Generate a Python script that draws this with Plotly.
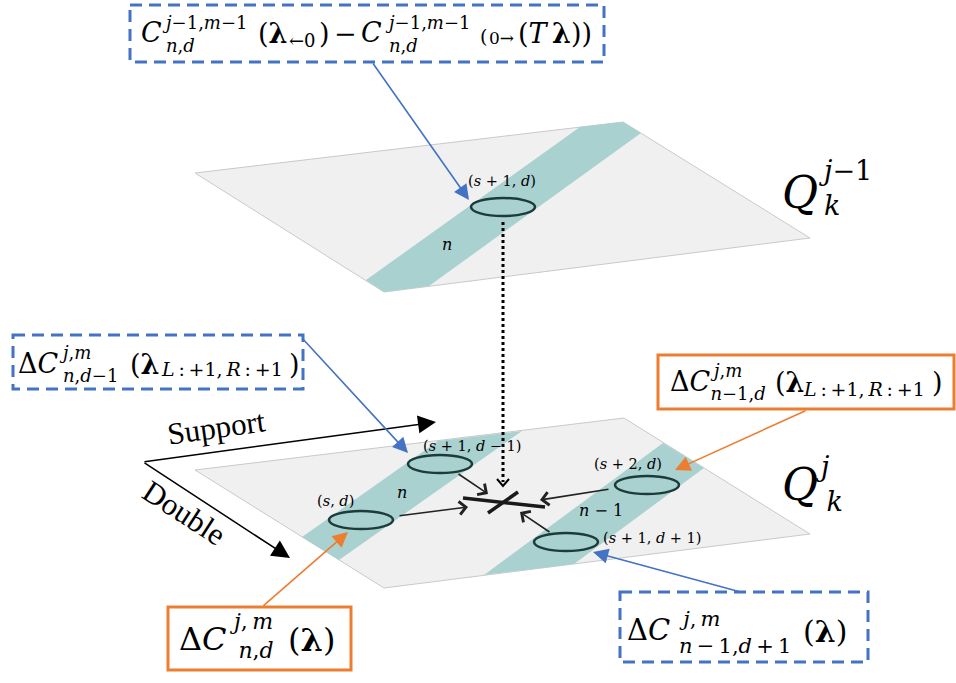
import plotly.graph_objects as go

W, H = 956, 683
MATH = "DejaVu Serif"
TIMES = "Liberation Serif"
BLUE = "#4472c4"
ORANGE = "#ed7d31"
PLANE_FILL = "#f0f0f0"
PLANE_LINE = "#c9c9c9"
BAND = "#a9d1d0"
RING = "#1d3b3b"
TS = "\u2009"

# ---------------- text content ----------------
plane_scripts = [f"<i>j</i>−1<br><i>k</i>", f"<i>j</i><br>{TS}<i>k</i>"]
node_labels = ["(<i>s</i> + 1, <i>d</i>)", "(<i>s</i> + 1, <i>d</i> − 1)", "(<i>s</i>, <i>d</i>)",
               "(<i>s</i> + 2, <i>d</i>)", "(<i>s</i> + 1, <i>d</i> + 1)"]
band_labels = ["<i>n</i>", "<i>n</i>", "<i>n</i> − 1"]
direction_labels = ["Support", "Double"]

# ---------------- geometry (pixel space) ----------------
top_plane = [(195, 173), (623, 122), (810, 238), (384, 292)]
bottom_plane = [(195, 470), (624, 418), (810, 534), (384, 588)]
top_band = [(580, 127), (623, 122), (641, 133), (429, 286), (384, 292), (366, 280)]
band_1 = [(438, 441), (522, 431), (339, 560), (302, 537)]
band_2 = [(663, 443), (704, 468), (574, 564), (484, 575)]
node_xy = [(503, 207), (440, 464), (361, 520), (647, 485), (566, 542)]
node_label_xy = [(502, 181), (472, 446), (335, 501), (628, 464), (652, 538)]
band_label_xy = [(447, 244), (402, 492), (601, 510)]

fig = go.Figure()
fig.update_layout(
    width=W, height=H, margin=dict(l=0, r=0, t=0, b=0),
    paper_bgcolor="white", plot_bgcolor="white", showlegend=False,
    xaxis=dict(range=[0, W], visible=False, fixedrange=True),
    yaxis=dict(range=[H, 0], visible=False, fixedrange=True),
)


def poly(pts, fill, line, width=1, close=True):
    d = "M " + " L ".join(f"{x},{y}" for x, y in pts) + (" Z" if close else "")
    fig.add_shape(type="path", path=d, xref="x", yref="y", fillcolor=fill,
                  line=dict(color=line, width=width))


def txt(x, y, text, size, family=MATH, anchor="left", angle=0, color="black"):
    fig.add_annotation(x=x, y=y, xref="x", yref="y", text=text, showarrow=False,
                       xanchor=anchor, yanchor="middle", textangle=angle, borderpad=0,
                       align="left", font=dict(family=family, size=size, color=color))


def arrow(tail, head, color, width, head_style, size):
    fig.add_annotation(x=head[0], y=head[1], ax=tail[0], ay=tail[1], xref="x", yref="y",
                       axref="x", ayref="y", text="", showarrow=True, arrowhead=head_style,
                       arrowsize=size, arrowwidth=width, arrowcolor=color, standoff=0)


def box(x0, y0, x1, y1, color, dashed):
    fig.add_shape(type="rect", x0=x0, y0=y0, x1=x1, y1=y1, xref="x", yref="y",
                  line=dict(color=color, width=3, dash="12px,7px" if dashed else "solid"))


# planes & bands
poly(top_plane, PLANE_FILL, PLANE_LINE)
poly(top_band, BAND, "rgba(0,0,0,0)", 0)
poly(bottom_plane, PLANE_FILL, PLANE_LINE)
poly(band_1, BAND, "rgba(0,0,0,0)", 0)
poly(band_2, BAND, "rgba(0,0,0,0)", 0)

# nodes
for cx, cy in node_xy:
    fig.add_shape(type="circle", x0=cx - 32, x1=cx + 32, y0=cy - 9, y1=cy + 9,
                  xref="x", yref="y", line=dict(color=RING, width=2.5))
for (lx, ly), lab in zip(node_label_xy, node_labels):
    txt(lx, ly, lab, 14.5, anchor="center")
for (lx, ly), lab in zip(band_label_xy, band_labels):
    txt(lx, ly, lab, 16, anchor="center")

# dotted link between layers, ending in an open chevron
fig.add_shape(type="line", x0=503, y0=222, x1=503, y1=482, xref="x", yref="y",
              line=dict(color="black", width=3, dash="dot"))
poly([(497, 479), (503, 486), (509, 479)], "rgba(0,0,0,0)", "black", 2, close=False)

# cross (update target)
fig.add_shape(type="line", x0=463, y0=498, x1=545, y1=507, xref="x", yref="y",
              line=dict(color="#1a1a1a", width=3.5))
fig.add_shape(type="line", x0=518, y0=492, x1=488, y1=513, xref="x", yref="y",
              line=dict(color="#1a1a1a", width=3.5))

# black arrows into the cross
arrow((457, 473), (488, 494), "#222", 1.6, 4, 1.6)
arrow((398, 516), (468, 507), "#222", 1.6, 4, 1.6)
arrow((610, 489), (540, 500), "#222", 1.6, 4, 1.6)
arrow((551, 533), (520, 512), "#222", 1.6, 4, 1.6)

# direction axes
arrow((143, 462), (436, 422), "black", 1.5, 2, 2.4)
arrow((143, 462), (290, 558), "black", 1.5, 2, 2.4)
txt(216, 427, direction_labels[0], 31, family=TIMES, anchor="center", angle=-8)
txt(184, 512, direction_labels[1], 31, family=TIMES, anchor="center", angle=33)

# plane names
txt(781, 192, "<i>Q</i>", 44)
txt(818, 188, plane_scripts[0], 27)
txt(781, 484, "<i>Q</i>", 44)
txt(815, 484, plane_scripts[1], 27)

# callout boxes
box(130, 5, 604, 62, BLUE, True)
box(13, 335, 303, 389, BLUE, True)
box(658, 355, 954, 409, ORANGE, False)
box(168, 607, 351, 670, ORANGE, False)
box(620, 592, 868, 662, BLUE, True)

# callout pointers
arrow((372, 62), (469, 200), BLUE, 1.6, 2, 1.9)
arrow((302, 338), (408, 453), BLUE, 1.6, 2, 1.9)
arrow((807, 410), (675, 470), ORANGE, 1.6, 2, 1.9)
arrow((262, 607), (348, 532), ORANGE, 1.6, 2, 1.9)
arrow((744, 593), (593, 552), BLUE, 1.6, 2, 1.9)

LR = f"<i>L</i>{TS}:{TS}+1,{TS}<i>R</i>{TS}:{TS}+1"
SC1 = "<i>j</i>−1,<i>m</i>−1<br><i>n</i>,<i>d</i>"

# box 1 : C^{j-1,m-1}_{n,d}(λ_{←0}) − C^{j-1,m-1}_{n,d}(_{0→}(Tλ))
for x, y, t, s in [
    (140, 32, "<i>C</i>", 27), (161, 33.5, SC1, 18),
    (257, 33, "(<b>λ</b>", 27), (288, 40, "←0", 18), (318, 33, ")", 27),
    (333, 33, "−", 27),
    (360, 32, "<i>C</i>", 27), (384, 33.5, SC1, 18),
    (479, 36, "(", 19), (488, 38, "0→", 17), (517, 33, f"(<i>T</i>{TS}<b>λ</b>))", 27),
]:
    txt(x, y, t, s)

# box 2 : ΔC^{j,m}_{n,d-1}(λ_{L:+1,R:+1})
for x, y, t, s in [
    (17, 363, "Δ<i>C</i>", 27), (58, 363.5, "<i>j</i>,<i>m</i><br><i>n</i>,<i>d</i>−1", 18),
    (129, 364, "(<b>λ</b>", 27), (160, 369, LR, 19), (288, 364, ")", 27),
]:
    txt(x, y, t, s)

# box 3 : ΔC^{j,m}_{n-1,d}(λ_{L:+1,R:+1})
for x, y, t, s in [
    (669, 381, "Δ<i>C</i>", 27), (709, 382, f"{TS}<i>j</i>,<i>m</i><br><i>n</i>−1,<i>d</i>", 18),
    (774, 382, "(<b>λ</b>", 27), (802, 389, LR, 19), (931, 382, ")", 27),
]:
    txt(x, y, t, s)

# box 4 : ΔC^{j,m}_{n,d}(λ)
for x, y, t, s in [
    (178, 639, "Δ<i>C</i>", 32), (228, 636, f"<i>j</i>,{TS}<i>m</i><br>{TS}<i>n</i>,<i>d</i>", 22),
    (287, 640, "(<b>λ</b>)", 32),
]:
    txt(x, y, t, s)

# box 5 : ΔC^{j,m}_{n-1,d+1}(λ)
for x, y, t, s in [
    (626, 630, "Δ<i>C</i>", 29),
    (678, 632.5, f"{TS}<i>j</i>,{TS}<i>m</i><br><i>n</i>{TS}−{TS}1,<i>d</i>{TS}+{TS}1", 21),
    (802, 631, "(<b>λ</b>)", 30),
]:
    txt(x, y, t, s)

fig.write_html("out.html", config={"displayModeBar": False},
               post_script="document.body.style.margin='0';document.body.style.overflow='hidden';")
